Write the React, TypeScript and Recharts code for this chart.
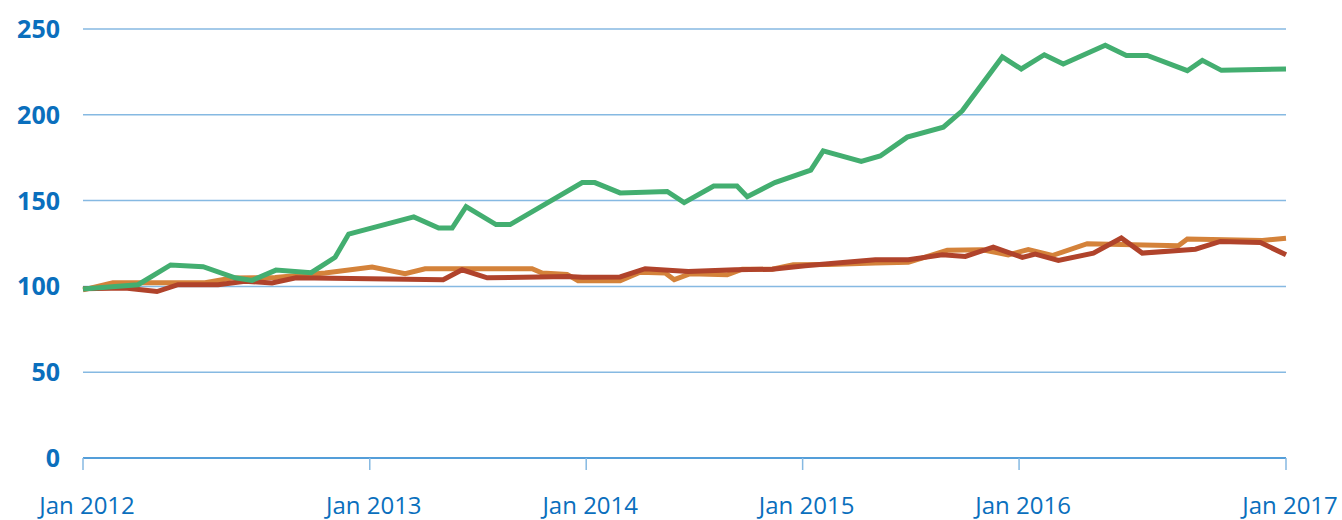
import { LineChart, Line, XAxis, YAxis, CartesianGrid } from 'recharts'

// x is a position on the chart's period scale (Jan 2012 = 0)
const X_TICKS = [0, 15.9, 27.9, 39.9, 51.9, 66.7]
const X_LABELS = ['Jan 2012', 'Jan 2013', 'Jan 2014', 'Jan 2015', 'Jan 2016', 'Jan 2017']
const Y_TICKS = [0, 50, 100, 150, 200, 250]

const greenT = [0, 3.05, 4.86, 6.66, 8.43, 9.37, 10.7, 12.65, 13.98, 14.73, 18.34, 19.72, 20.47, 21.24, 22.9, 23.68, 27.68, 28.38, 29.78, 32.39, 33.33, 34.97, 36.26, 36.83, 38.36, 40.35, 41.04, 43.15, 44.2, 45.7, 47.7, 48.75, 50.97, 52.02, 53.3, 54.35, 56.68, 57.85, 59.01, 61.23, 62.06, 63.12, 66.7]
const greenV = [98.5, 101, 112.5, 111.5, 105, 103.5, 109.5, 108, 117, 130.5, 140.5, 134, 134, 146.5, 136, 136, 160.5, 160.5, 154.5, 155.3, 148.8, 158.5, 158.5, 152.3, 160.5, 167.8, 179, 172.8, 176, 187, 192.8, 202.3, 233.7, 226.7, 235, 229.6, 240.5, 234.6, 234.6, 225.7, 231.7, 225.9, 226.7]

const orangeT = [0, 1.66, 6.77, 8.26, 10.65, 13.42, 16.03, 17.86, 18.97, 24.9, 25.46, 26.84, 27.45, 29.78, 30.89, 32.28, 32.78, 33.67, 35.72, 36.55, 38.21, 39.38, 41.32, 43.93, 45.76, 47.92, 49.86, 51.3, 52.41, 53.74, 55.68, 60.73, 61.23, 65.39, 66.7]
const orangeV = [98, 102.2, 102.2, 104.9, 105.2, 107.8, 111.3, 107.4, 110.3, 110.3, 107.8, 107, 103.3, 103.3, 108.3, 107.8, 103.9, 107.4, 106.8, 110, 110, 112.6, 112.8, 113.6, 114, 121, 121.4, 118.4, 121.5, 118, 124.9, 123.7, 127.6, 126.8, 128]

const redT = [0, 2.33, 4.1, 5.27, 7.49, 8.98, 10.48, 11.81, 19.97, 21.02, 22.41, 26.9, 27.68, 29.78, 31.17, 33.56, 36.16, 38.21, 40.04, 41.32, 43.93, 45.76, 47.64, 48.92, 50.47, 52.08, 52.8, 54.08, 56.02, 57.57, 58.73, 61.68, 63.06, 65.28, 66.7]
const redV = [98.6, 99, 97, 101, 101, 103, 102, 105, 103.9, 109.7, 105, 105.8, 105.4, 105.5, 110.3, 108.7, 109.7, 110, 112, 113.2, 115.5, 115.5, 118.4, 117.5, 122.9, 116.9, 118.8, 115.1, 119.4, 128.2, 119.4, 121.7, 126.2, 125.6, 118.4]

const toRows = (t: number[], v: number[]) => t.map((x, i) => ({ t: x, v: v[i] }))

const greenData = toRows(greenT, greenV)
const orangeData = toRows(orangeT, orangeV)
const redData = toRows(redT, redV)

const BLUE = '#0a6fbd'

const YTick = (props: any) => {
  const { x, y, payload } = props
  return (
    <text x={x - 15} y={y} dy={9} textAnchor="end" fill={BLUE} fontSize={25} fontWeight={700}
      fontFamily="'Open Sans', sans-serif">
      {payload.value}
    </text>
  )
}

const XTick = (props: any) => {
  const { x, y, payload } = props
  const i = X_TICKS.indexOf(payload.value)
  return (
    <text x={x + 4} y={y} dy={42} textAnchor="middle" fill={BLUE} fontSize={24}
      fontFamily="'Open Sans', sans-serif">
      {X_LABELS[i]}
    </text>
  )
}

export default function App() {
  return (
    <div style={{ position: 'absolute', left: 0, top: 0, width: 1342, height: 520 }}>
      <LineChart width={1342} height={520} margin={{ top: 29, right: 56, left: 0, bottom: 22 }}>
        <CartesianGrid vertical={false} stroke="#86b9e2" strokeWidth={1.5} />
        <XAxis
          type="number"
          dataKey="t"
          domain={[0, 66.7]}
          ticks={X_TICKS}
          height={40}
          axisLine={{ stroke: '#3a8fd3', strokeWidth: 1.5 }}
          tickLine={{ stroke: '#86b9e2', strokeWidth: 1.5 }}
          tickSize={12}
          tick={<XTick />}
          interval={0}
        />
        <YAxis
          domain={[0, 250]}
          ticks={Y_TICKS}
          width={83}
          axisLine={false}
          tickLine={false}
          tick={<YTick />}
          interval={0}
        />
        <Line data={orangeData} dataKey="v" name="orange" stroke="#d4823a" strokeWidth={5} dot={false} isAnimationActive={false} strokeLinejoin="miter" />
        <Line data={redData} dataKey="v" name="red" stroke="#b0432b" strokeWidth={5} dot={false} isAnimationActive={false} strokeLinejoin="miter" />
        <Line data={greenData} dataKey="v" name="green" stroke="#43ae70" strokeWidth={5} dot={false} isAnimationActive={false} strokeLinejoin="miter" />
      </LineChart>
    </div>
  )
}
